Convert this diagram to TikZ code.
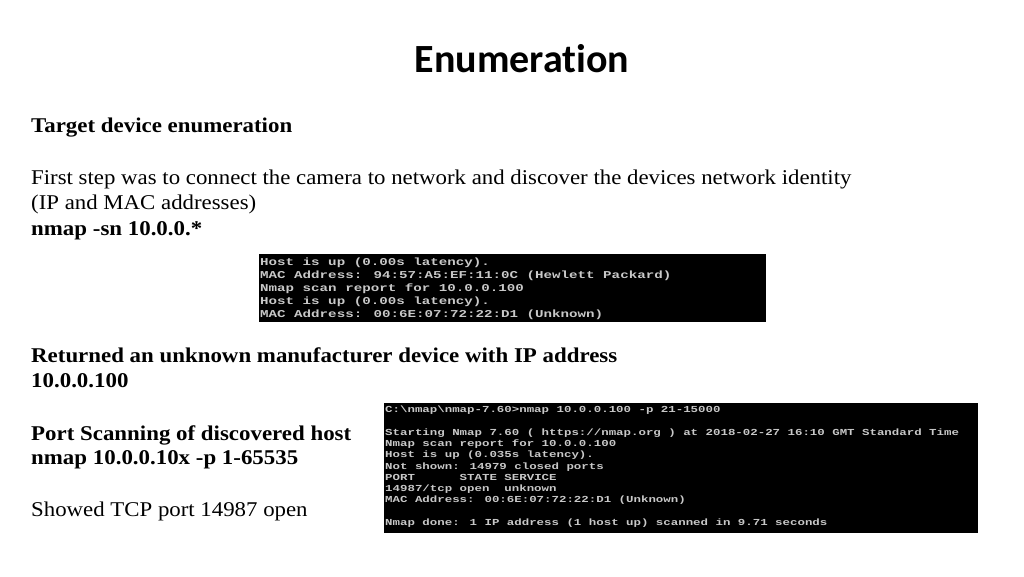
\documentclass[tikz,border=0pt]{standalone}
\usepackage{fontspec}
\setmainfont{Liberation Serif}[FakeStretch=1.087,BoldFeatures={FakeStretch=1.09}]
\newfontfamily\titlefont[Ligatures={NoCommon}]{Carlito}
\newfontfamily\termfont[FakeStretch=1.35]{Liberation Mono Bold}
\definecolor{termfg}{HTML}{C8C8C8}
\begin{document}
\begin{tikzpicture}[x=1pt,y=-1pt,
  body/.style={anchor=base west,inner sep=0pt,font=\fontsize{21}{24}\selectfont},
  bbody/.style={body,font=\fontsize{21}{24}\selectfont\bfseries},
  termtext/.style={anchor=north west,inner sep=0pt,align=left,text=termfg}]
\useasboundingbox (0,0) rectangle (1024,576);
\fill[white] (0,0) rectangle (1024,576);
\node[font=\titlefont\bfseries\fontsize{40}{44}\selectfont,inner sep=0pt,anchor=base] (title) at (522,72) {Enumeration};
\node[bbody] (t1) at (31,132) {Target device enumeration};
\node[body] (t2) at (31,184) {First step was to connect the camera to network and discover the devices network identity};
\node[body] (t3) at (31,209) {(IP and MAC addresses)};
\node[bbody] (t4) at (31,235) {nmap -sn 10.0.0.*};
\node[bbody] (t5) at (31,362) {Returned an unknown manufacturer device with IP address};
\node[bbody] (t6) at (31,387) {10.0.0.100};
\node[bbody] (t7) at (31,440) {Port Scanning of discovered host};
\node[bbody] (t8) at (31,464) {nmap 10.0.0.10x -p 1-65535};
\node[body] (t9) at (31,516) {Showed TCP port 14987 open};
% terminal 1
\fill[black] (259,254) rectangle (766,322);
\node[termtext,font=\termfont\fontsize{10.5}{13}\selectfont] (term1) at (260,258) {%
Host is up (0.00s latency).\\
MAC Address: 94:57:A5:EF:11:0C (Hewlett Packard)\\
Nmap scan report for 10.0.0.100\\
Host is up (0.00s latency).\\
MAC Address: 00:6E:07:72:22:D1 (Unknown)};
% terminal 2
\fill[black] (384,403) rectangle (978,533);
\node[termtext,font=\termfont\fontsize{9.2}{11.25}\selectfont] (term2) at (385,406) {%
C:\textbackslash nmap\textbackslash nmap-7.60>nmap 10.0.0.100 -p 21-15000\\
\mbox{}\\
Starting Nmap 7.60 ( https://nmap.org ) at 2018-02-27 16:10 GMT Standard Time\\
Nmap scan report for 10.0.0.100\\
Host is up (0.035s latency).\\
Not shown: 14979 closed ports\\
PORT\ \ \ \ \ \ STATE SERVICE\\
14987/tcp open\ \ unknown\\
MAC Address: 00:6E:07:72:22:D1 (Unknown)\\
\mbox{}\\
Nmap done: 1 IP address (1 host up) scanned in 9.71 seconds};
\end{tikzpicture}
\end{document}
